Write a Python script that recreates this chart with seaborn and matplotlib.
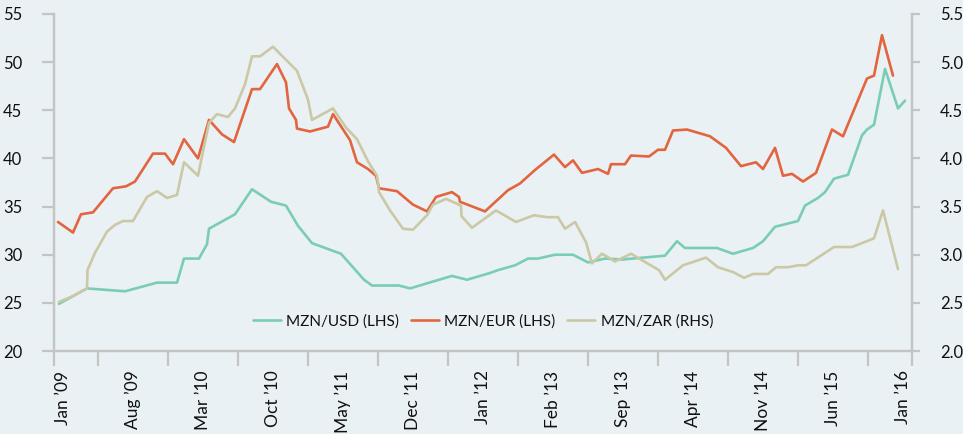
import numpy as np
import pandas as pd
import matplotlib
matplotlib.use('Agg')
import matplotlib.pyplot as plt
import seaborn as sns
from matplotlib.ticker import FormatStrFormatter

# months since Jan 2009
usd_t = [-0.4, 1.0, 2.4, 6.2, 9.4, 11.4, 12.1, 13.6, 14.4, 14.6, 17.2, 18.9, 20.8, 22.3, 23.5,
         24.9, 27.8, 30.1, 30.9, 33.6, 34.7, 38.9, 40.4, 42.7, 43.5, 45.2, 46.5, 47.5, 49.2,
         51.0, 52.5, 54.2, 55.9, 60.2, 61.4, 62.2, 65.4, 67.0, 69.0, 70.0, 71.2, 73.5, 74.2,
         75.5, 76.2, 77.1, 78.5, 79.9, 80.4, 81.1, 82.2, 83.5, 84.2]
usd_v = [24.9, 25.7, 26.5, 26.2, 27.1, 27.1, 29.6, 29.6, 31.1, 32.7, 34.2, 36.8, 35.5, 35.1, 33.0,
         31.2, 30.1, 27.4, 26.8, 26.8, 26.5, 27.8, 27.4, 28.1, 28.4, 28.9, 29.6, 29.6, 30.0,
         30.0, 29.2, 29.6, 29.5, 29.9, 31.4, 30.7, 30.7, 30.1, 30.7, 31.4, 32.9, 33.5, 35.1,
         35.9, 36.5, 37.9, 38.3, 42.4, 43.0, 43.5, 49.3, 45.2, 46.0]

eur_t = [-0.5, 1.0, 1.8, 3.0, 5.0, 6.3, 7.2, 9.0, 10.2, 11.0, 12.1, 13.5, 14.6, 15.9, 17.1,
         18.9, 19.7, 21.4, 22.3, 22.6, 23.3, 23.4, 24.7, 26.5, 27.0, 28.7, 29.4, 30.5, 31.3,
         31.6, 33.4, 35.0, 36.4, 37.3, 38.9, 39.6, 39.7, 42.2, 44.5, 45.7, 47.2, 49.1, 50.2,
         51.0, 51.9, 53.5, 54.5, 54.8, 56.2, 56.8, 58.6, 59.5, 60.2, 61.0, 62.4, 64.7, 66.3,
         67.8, 69.3, 70.0, 71.2, 72.0, 72.9, 74.0, 75.3, 76.9, 78.0, 80.4, 81.1, 81.9, 83.0]
eur_v = [33.4, 32.3, 34.2, 34.4, 36.9, 37.1, 37.6, 40.5, 40.5, 39.4, 42.0, 40.0, 44.0, 42.5, 41.7,
         47.2, 47.2, 49.8, 47.9, 45.2, 44.0, 43.1, 42.8, 43.3, 44.6, 41.9, 39.6, 38.9, 38.2,
         36.9, 36.6, 35.2, 34.5, 36.0, 36.5, 36.0, 35.5, 34.5, 36.7, 37.4, 38.8, 40.4, 39.1,
         39.8, 38.5, 38.9, 38.4, 39.4, 39.4, 40.3, 40.2, 40.9, 40.9, 42.9, 43.0, 42.3, 41.1,
         39.2, 39.6, 38.9, 41.1, 38.2, 38.4, 37.6, 38.5, 43.0, 42.3, 48.3, 48.6, 52.8, 48.6]

zar_t = [-0.4, 1.0, 2.4, 2.45, 3.2, 4.4, 5.2, 6.0, 7.0, 8.4, 9.4, 10.4, 11.4, 12.1, 13.5,
         14.6, 15.4, 16.5, 17.2, 18.2, 18.9, 19.7, 21.0, 23.4, 24.5, 24.9, 27.0, 28.3, 29.4,
         30.5, 31.4, 31.6, 32.7, 34.0, 35.0, 36.4, 37.0, 38.3, 39.8, 39.85, 40.9, 43.3, 45.3,
         47.1, 48.4, 49.5, 50.2, 51.2, 52.3, 52.9, 53.9, 55.2, 56.8, 59.6, 60.2, 62.0, 64.3,
         65.5, 67.0, 68.1, 69.0, 70.5, 71.3, 72.5, 73.5, 74.3, 77.1, 78.9, 81.1, 82.0, 83.5]
zar_v = [2.51, 2.57, 2.65, 2.84, 3.02, 3.24, 3.31, 3.35, 3.35, 3.60, 3.66, 3.59, 3.62, 3.96, 3.82,
         4.37, 4.46, 4.43, 4.52, 4.77, 5.06, 5.06, 5.16, 4.91, 4.61, 4.40, 4.52, 4.32, 4.20,
         3.97, 3.82, 3.65, 3.46, 3.27, 3.26, 3.41, 3.52, 3.58, 3.51, 3.40, 3.28, 3.46, 3.34,
         3.41, 3.39, 3.39, 3.27, 3.34, 3.13, 2.91, 3.01, 2.93, 3.01, 2.84, 2.74, 2.89, 2.97,
         2.87, 2.82, 2.76, 2.80, 2.80, 2.87, 2.87, 2.89, 2.89, 3.08, 3.08, 3.17, 3.46, 2.85]

tick_labels = ["Jan \u201909", "Aug \u201909", "Mar \u201910", "Oct \u201910", "May \u201911",
               "Dec \u201911", "Jan \u201912", "Feb \u201913", "Sep \u201913", "Apr \u201914",
               "Nov \u201914", "Jun \u201915", "Jan \u201916"]

bg = '#eaf1f4'
grey = '#c4c4c4'
col_usd = '#7acdb5'
col_eur = '#e2653f'
col_zar = '#cbc8a6'

sns.set_theme(style='ticks')
plt.rcParams['font.family'] = ['Lato', 'DejaVu Sans']
plt.rcParams['text.color'] = '#111111'
plt.rcParams['xtick.color'] = grey
plt.rcParams['ytick.color'] = grey

fig = plt.figure(figsize=(9.63, 4.34), dpi=100, facecolor=bg)
ax = fig.add_axes([54/963, (434-351)/434, (912-54)/963, (351-14)/434])
ax.set_facecolor(bg)
ax2 = ax.twinx()
ax2.patch.set_visible(False)

lw = 1.9
sns.lineplot(x=usd_t, y=usd_v, ax=ax, color=col_usd, lw=lw, estimator=None, sort=False,
             label='MZN/USD (LHS)')
sns.lineplot(x=eur_t, y=eur_v, ax=ax, color=col_eur, lw=lw, estimator=None, sort=False,
             label='MZN/EUR (LHS)')
sns.lineplot(x=zar_t, y=zar_v, ax=ax2, color=col_zar, lw=lw, estimator=None, sort=False,
             label='MZN/ZAR (RHS)')

ax.set_xlim(-0.9, 84.9)
ax.set_ylim(20, 55)
ax2.set_ylim(2.0, 5.5)
ax.set_yticks(np.arange(20, 56, 5))
ax2.set_yticks(np.arange(2.0, 5.51, 0.5))
ax2.yaxis.set_major_formatter(FormatStrFormatter('%.1f'))

# category-style axis: marks between labels, labels in the gaps
lab_pos = np.arange(len(tick_labels)) * 7
sep = list(lab_pos[:-1] + 3.5)
ax.set_xticks([-0.9] + sep + [84.9])
ax.set_xticklabels([])
ax.set_xticks(lab_pos, minor=True)
ax.set_xticklabels(tick_labels, minor=True, rotation=90, fontsize=12.5, color='#111111')
ax.tick_params(axis='x', which='major', length=11, width=1.6, color=grey)
ax.tick_params(axis='x', which='minor', length=0, pad=14)
ax.tick_params(axis='y', length=9, width=1.6, color=grey, pad=14, labelsize=12,
               labelcolor='#111111')
ax2.tick_params(axis='y', length=6, width=1.6, color=grey, pad=14, labelsize=12,
                labelcolor='#111111')
ax.set_xlabel('')
ax.set_ylabel('')
ax2.set_ylabel('')

for a in (ax, ax2):
    a.spines['top'].set_visible(False)
    for s in ('left', 'right', 'bottom'):
        a.spines[s].set_color(grey)
        a.spines[s].set_linewidth(1.6)

h1, l1 = ax.get_legend_handles_labels()
h2, l2 = ax2.get_legend_handles_labels()
ax.get_legend().remove()
ax2.get_legend().remove()
ax2.legend(h1 + h2, l1 + l2, loc='center', bbox_to_anchor=(0.5, 0.088), ncol=3,
           frameon=False, fontsize=11, handlelength=1.85, handletextpad=0.35,
           columnspacing=0.75)

fig.savefig('out.png', dpi=100, facecolor=bg)
